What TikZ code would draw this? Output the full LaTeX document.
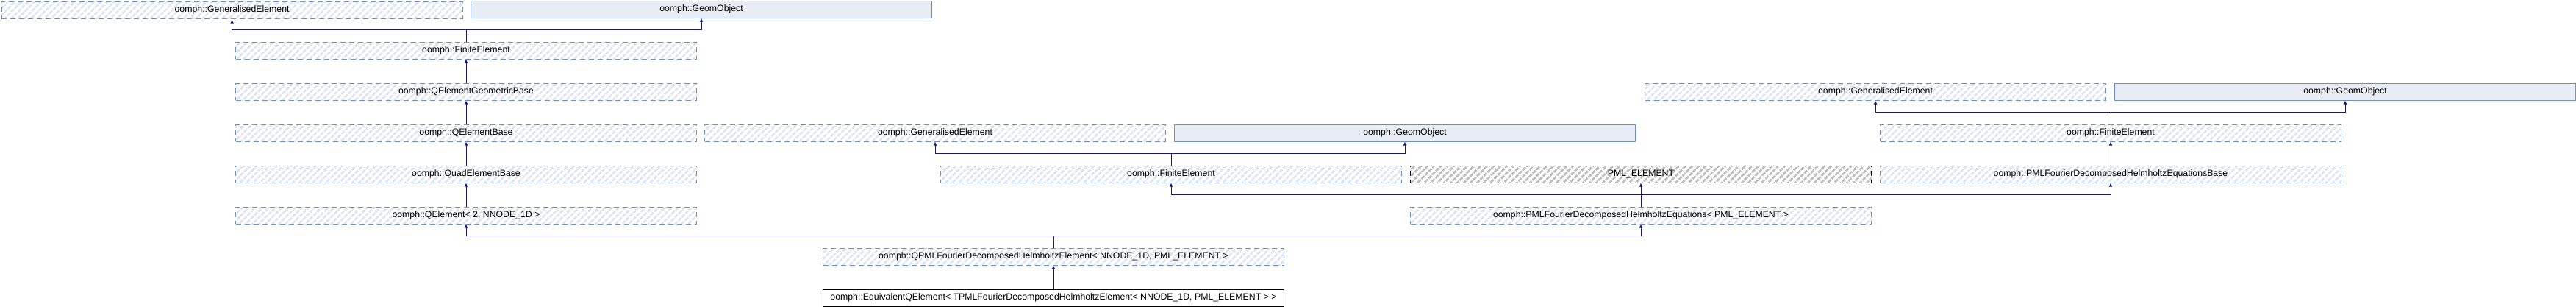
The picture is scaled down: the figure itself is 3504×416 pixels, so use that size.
\documentclass[tikz,border=0pt]{standalone}
\usepackage{fontspec}
\setmainfont{Liberation Sans}
\usetikzlibrary{arrows.meta,patterns.meta}
\definecolor{edgec}{HTML}{191970}
\definecolor{bordc}{HTML}{6F8DC8}
\definecolor{hatchc}{HTML}{DFE5F1}
\definecolor{geomfill}{HTML}{E8ECF4}
\definecolor{grayhatch}{HTML}{C0C0C0}
\tikzset{
  cls/.style={minimum width=627pt, minimum height=23pt, inner sep=0pt, anchor=north west,
    font=\fontsize{12.3}{14}\selectfont, text=black},
  undoc/.style={cls, draw=bordc, dash pattern=on 7pt off 5pt, line width=1pt,
    pattern={Lines[angle=45,distance=6.4pt,line width=3.2pt]}, pattern color=hatchc},
  docd/.style={cls, draw=bordc, line width=1pt, fill=geomfill},
  extcls/.style={cls, draw=black, dash pattern=on 7pt off 5pt, line width=1pt,
    pattern={Lines[angle=45,distance=6.4pt,line width=3.2pt]}, pattern color=grayhatch},
  leafcls/.style={cls, draw=black, line width=1pt, fill=white},
  edge/.style={draw=edgec, line width=1pt, -{Latex[length=5pt,width=5pt]}}
}
\begin{document}
\begin{tikzpicture}[x=1pt,y=-1pt]
\useasboundingbox (0,0) rectangle (3504,416);
% row 1
\node[undoc] (ge1) at (0.5,0.5) {oomph::GeneralisedElement};
\node[docd] (go1) at (640,0.5) {oomph::GeomObject};
% row 2
\node[undoc] (fe1) at (320,56.5) {oomph::FiniteElement};
% row 3
\node[undoc] (qegb) at (320,112.5) {oomph::QElementGeometricBase};
\node[undoc] (ge3) at (2237,112.5) {oomph::GeneralisedElement};
\node[docd] (go3) at (2876,112.5) {oomph::GeomObject};
% row 4
\node[undoc] (qeb) at (320,168.5) {oomph::QElementBase};
\node[undoc] (ge2) at (958,168.5) {oomph::GeneralisedElement};
\node[docd] (go2) at (1597,168.5) {oomph::GeomObject};
\node[undoc] (fe3) at (2557,168.5) {oomph::FiniteElement};
% row 5
\node[undoc] (quad) at (320,224.5) {oomph::QuadElementBase};
\node[undoc] (fe2) at (1279,224.5) {oomph::FiniteElement};
\node[extcls] (pml) at (1918,224.5) {PML\_ELEMENT};
\node[undoc] (pmlbase) at (2557,224.5) {oomph::PMLFourierDecomposedHelmholtzEquationsBase};
% row 6
\node[undoc] (qel) at (320,280.5) {oomph::QElement< 2, NNODE\_1D >};
\node[undoc] (pmleq) at (1918,280.5) {oomph::PMLFourierDecomposedHelmholtzEquations< PML\_ELEMENT >};
% row 7
\node[undoc] (qpml) at (1119,336.5) {oomph::QPMLFourierDecomposedHelmholtzElement< NNODE\_1D, PML\_ELEMENT >};
% row 8
\node[leafcls] (eqv) at (1119,392.5) {oomph::EquivalentQElement< TPMLFourierDecomposedHelmholtzElement< NNODE\_1D, PML\_ELEMENT > >};
% edges
\draw[edge] (fe1.north) -- ++(0,-16.5) -| (ge1.south);
\draw[edge] (fe1.north) -- ++(0,-16.5) -| (go1.south);
\draw[edge] (qegb.north) -- (fe1.south);
\draw[edge] (qeb.north) -- (qegb.south);
\draw[edge] (quad.north) -- (qeb.south);
\draw[edge] (qel.north) -- (quad.south);
\draw[edge] (fe3.north) -- ++(0,-16.5) -| (ge3.south);
\draw[edge] (fe3.north) -- ++(0,-16.5) -| (go3.south);
\draw[edge] (pmlbase.north) -- (fe3.south);
\draw[edge] (fe2.north) -- ++(0,-16.5) -| (ge2.south);
\draw[edge] (fe2.north) -- ++(0,-16.5) -| (go2.south);
\draw[edge] (pmleq.north) -- ++(0,-16.5) -| (fe2.south);
\draw[edge] (pmleq.north) -- (pml.south);
\draw[edge] (pmleq.north) -- ++(0,-16.5) -| (pmlbase.south);
\draw[edge] (qpml.north) -- ++(0,-16.5) -| (qel.south);
\draw[edge] (qpml.north) -- ++(0,-16.5) -| (pmleq.south);
\draw[edge] (eqv.north) -- (qpml.south);
\end{tikzpicture}
\end{document}
